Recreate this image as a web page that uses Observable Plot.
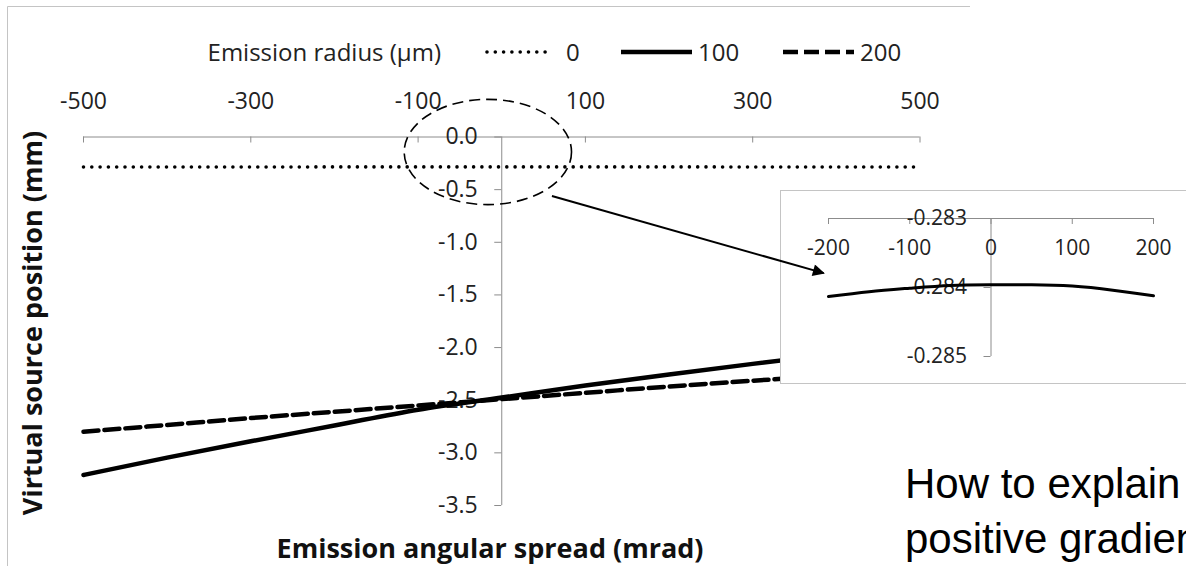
<!DOCTYPE html>
<html><head><meta charset="utf-8">
<script src="https://cdn.jsdelivr.net/npm/d3@7"></script>
<script src="https://cdn.jsdelivr.net/npm/@observablehq/plot@0.6"></script>
<style>
body{margin:0;background:#fff;}
#wrap{position:relative;width:1186px;height:566px;overflow:hidden;font-family:"Open Sans",sans-serif;color:#222;}
#wrap svg.main{position:absolute;left:0;top:0;}
.abs{position:absolute;white-space:nowrap;}
.legtxt{font-size:24px;line-height:1;transform:translateY(-50%);}
.ytitle{font-weight:bold;font-size:27px;line-height:1;transform:translate(-50%,-50%) rotate(-90deg);color:#111;}
.xtitle{font-weight:bold;font-size:27px;line-height:1;transform:translate(-50%,-50%);color:#111;}
.note{font-family:"Liberation Sans",Arial,sans-serif;font-size:42px;line-height:55px;color:#000;}
</style></head><body><div id="wrap"></div>
<script>
// ---- data ----
const angles = [-500,-400,-300,-200,-100,0,100,200,300,400,500];
const radius0 = [-0.2845,-0.2844,-0.2843,-0.2842,-0.2840,-0.2840,-0.2840,-0.2841,-0.2843,-0.2844,-0.2845];
const radius100 = [-3.21,-3.045,-2.89,-2.74,-2.59,-2.475,-2.36,-2.255,-2.155,-2.06,-1.97];
const radius200 = [-2.80,-2.735,-2.67,-2.61,-2.55,-2.49,-2.43,-2.37,-2.315,-2.26,-2.205];
const seriesNames = ["0","100","200"];
const insetAngles = [-200,-150,-100,-50,0,50,100,150,200];
const insetRadius0 = [-0.28413,-0.28406,-0.28401,-0.28397,-0.28396,-0.28396,-0.28398,-0.28404,-0.28412];
const xTicks = [-500,-300,-100,100,300,500];
const yTicks = [0,-0.5,-1,-1.5,-2,-2.5,-3,-3.5];
const insetXTicks = [-200,-100,0,100,200];
const insetYTicks = [-0.283,-0.284,-0.285];
const legendTitle = "Emission radius (\u03bcm)";
const xTitle = "Emission angular spread (mrad)";
const yTitle = "Virtual source position (mm)";
const noteLines = ["How to explain the", "positive gradient?"];
// annotation anchors (data units)
const ellipseCenter = [-16, -0.147], ellipseRadii = [100, 0.5];
const arrowFrom = [60.6, -0.565], arrowTo = [385.5, -1.298];

const seriesValues = [radius0, radius100, radius200];
const rows = [];
seriesNames.forEach((s, k) => angles.forEach((a, i) => rows.push({series: s, x: a, y: seriesValues[k][i]})));
const insetRows = insetAngles.map((a, i) => ({x: a, y: insetRadius0[i]}));

const styles = {
  "0": {strokeDasharray: "0,8.3", strokeLinecap: "round", strokeWidth: 3.6},
  "100": {strokeWidth: 4.5},
  "200": {strokeDasharray: "15,6", strokeWidth: 4.5}
};
const axisGray = "#8c8c8c";
const textCol = "#222";

const main = Plot.plot({
  width: 1186, height: 566,
  marginLeft: 83, marginRight: 266.5, marginTop: 136.5, marginBottom: 61,
  x: {domain: [-500, 500], axis: null},
  y: {domain: [-3.5, 0], axis: null},
  style: {fontFamily: "Open Sans", fontSize: "23px", color: textCol, background: "transparent", overflow: "visible"},
  marks: [
    Plot.ruleY([0], {x1: -500, x2: 500, stroke: axisGray}),
    Plot.ruleX(xTicks, {y1: 0, y2: 0, insetBottom: -6, stroke: axisGray}),
    Plot.ruleX([0], {y1: -3.5, y2: 0, stroke: axisGray}),
    Plot.ruleY(yTicks, {x1: 0, x2: 0, insetLeft: -7, stroke: axisGray}),
    Plot.text(xTicks, {x: d => d, y: 0, text: d => String(d), dy: -35, fill: textCol, fontSize: 23}),
    Plot.text(yTicks, {x: 0, y: d => d, text: d => d.toFixed(1), textAnchor: "end", dx: -24, fill: textCol, fontSize: 23}),
    ...seriesNames.map(s => Plot.line(rows.filter(r => r.series === s), {x: "x", y: "y", stroke: "black", curve: "monotone-x", ...styles[s]}))
  ]
});
main.classList.add("main");
const wrap = document.getElementById("wrap");
wrap.appendChild(main);

const sx = main.scale("x"), sy = main.scale("y");
const svg = d3.select(main);

// outer chart border (top & left)
svg.append("path").attr("d", "M7.5,566V6.5H970").attr("fill", "none").attr("stroke", "#c4c4c4");

// dashed ellipse
svg.append("ellipse")
  .attr("cx", sx.apply(ellipseCenter[0])).attr("cy", sy.apply(ellipseCenter[1]))
  .attr("rx", sx.apply(ellipseCenter[0] + ellipseRadii[0]) - sx.apply(ellipseCenter[0]))
  .attr("ry", sy.apply(ellipseCenter[1] - ellipseRadii[1]) - sy.apply(ellipseCenter[1]))
  .attr("fill", "none").attr("stroke", "black").attr("stroke-width", 1.6).attr("stroke-dasharray", "11,6");

// inset chart
const insetW = 420, insetH = 193, insetX0 = 780, insetY0 = 190;
svg.append("rect").attr("x", insetX0 + 0.5).attr("y", insetY0 + 0.5).attr("width", insetW).attr("height", insetH)
  .attr("fill", "white").attr("stroke", "#c4c4c4");
const inset = Plot.plot({
  width: insetW, height: insetH,
  marginLeft: 48, marginRight: insetW - 373, marginTop: 28, marginBottom: insetH - 166,
  x: {domain: [-200, 200], axis: null},
  y: {domain: [-0.285, -0.283], axis: null},
  style: {fontFamily: "Open Sans", fontSize: "21px", color: textCol, background: "transparent"},
  marks: [
    Plot.ruleY([-0.283], {x1: -200, x2: 200, stroke: axisGray}),
    Plot.ruleX(insetXTicks, {y1: -0.283, y2: -0.283, insetBottom: -6, stroke: axisGray}),
    Plot.ruleX([0], {y1: -0.285, y2: -0.283, stroke: axisGray}),
    Plot.ruleY(insetYTicks, {x1: 0, x2: 0, insetLeft: -7, stroke: axisGray}),
    Plot.text(insetXTicks, {x: d => d, y: -0.283, text: d => String(d), dy: 30, fill: textCol, fontSize: 21}),
    Plot.text(insetYTicks, {x: 0, y: d => d, text: d => d.toFixed(3), textAnchor: "end", dx: -24, fill: textCol, fontSize: 21}),
    Plot.line(insetRows, {x: "x", y: "y", stroke: "black", strokeWidth: 3, curve: "natural"})
  ]
});
const ig = svg.append("g").attr("transform", `translate(${insetX0},${insetY0})`)
  .attr("font-family", "Open Sans").attr("font-size", 21);
Array.from(inset.childNodes).forEach(n => { if (n.nodeName.toLowerCase() !== "style") ig.node().appendChild(n); });

// arrow on top
const defs = svg.append("defs");
defs.append("marker").attr("id", "ah").attr("viewBox", "0 0 10 10").attr("refX", 9).attr("refY", 5)
  .attr("markerWidth", 8).attr("markerHeight", 6).attr("markerUnits", "strokeWidth").attr("orient", "auto")
  .append("path").attr("d", "M0,0L10,5L0,10Z").attr("fill", "black");
svg.append("line")
  .attr("x1", sx.apply(arrowFrom[0])).attr("y1", sy.apply(arrowFrom[1]))
  .attr("x2", sx.apply(arrowTo[0])).attr("y2", sy.apply(arrowTo[1]))
  .attr("stroke", "black").attr("stroke-width", 2).attr("marker-end", "url(#ah)");

// legend, titles, note
function addDiv(cls, text, left, top) {
  const d = document.createElement("div");
  d.className = "abs " + cls; d.textContent = text;
  d.style.left = left + "px"; d.style.top = top + "px";
  wrap.appendChild(d); return d;
}
const legY = 52;
const lt = addDiv("legtxt", legendTitle, 0, legY);
lt.style.left = "auto"; lt.style.right = (1186 - 441) + "px";
const legItems = [[487, 552, 566], [621, 692, 698], [783, 854, 860]];
seriesNames.forEach((s, k) => {
  const [a, b, t] = legItems[k];
  const ns = "http://www.w3.org/2000/svg";
  const sv = document.createElementNS(ns, "svg");
  sv.setAttribute("width", b - a + 6); sv.setAttribute("height", 10);
  sv.style.position = "absolute"; sv.style.left = (a - 3) + "px"; sv.style.top = (legY - 5) + "px";
  const ln = document.createElementNS(ns, "line");
  ln.setAttribute("x1", 3); ln.setAttribute("x2", b - a + 3); ln.setAttribute("y1", 5); ln.setAttribute("y2", 5);
  ln.setAttribute("stroke", "black"); ln.setAttribute("stroke-width", styles[s].strokeWidth);
  if (styles[s].strokeDasharray) ln.setAttribute("stroke-dasharray", styles[s].strokeDasharray);
  if (styles[s].strokeLinecap) ln.setAttribute("stroke-linecap", styles[s].strokeLinecap);
  sv.appendChild(ln); wrap.appendChild(sv);
  addDiv("legtxt", s, t, legY);
});

addDiv("xtitle", xTitle, 490, 547);
addDiv("ytitle", yTitle, 31, 323);
const note = addDiv("note", "", 905, 456);
note.innerHTML = noteLines.join("<br>");
</script></body></html>
